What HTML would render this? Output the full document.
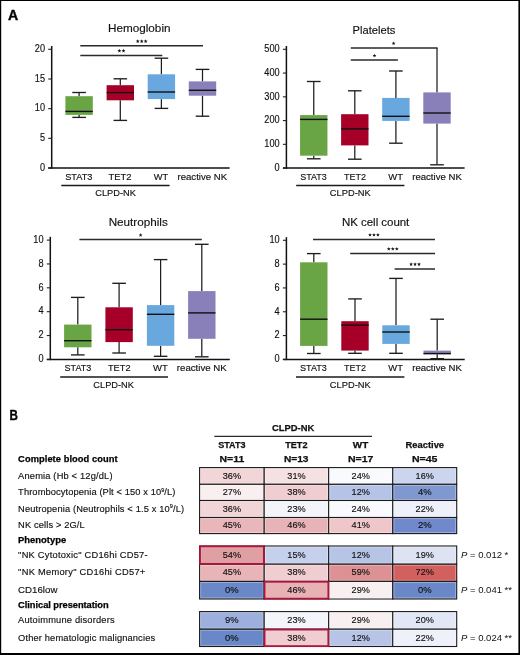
<!DOCTYPE html>
<html><head><meta charset="utf-8"><style>
html,body{margin:0;padding:0;background:#fff;}
#wrap{position:relative;width:520px;height:655px;overflow:hidden;background:#fff;}
svg{position:absolute;left:0;top:0;will-change:transform;font-family:"Liberation Sans", sans-serif;}
</style></head><body><div id="wrap">
<svg width="520" height="655" viewBox="0 0 520 655">
<line x1="51.7" y1="46" x2="51.7" y2="168.75" stroke="#111" stroke-width="1.5"/>
<line x1="48.2" y1="168.0" x2="229.6" y2="168.0" stroke="#111" stroke-width="1.5"/>
<line x1="48.2" y1="168.0" x2="51.7" y2="168.0" stroke="#222" stroke-width="1.1"/>
<text x="45.00" y="170.8" font-size="10" text-anchor="end" font-weight="normal" fill="#111" stroke="#111" stroke-width="0.15" textLength="5.10" lengthAdjust="spacingAndGlyphs">0</text>
<line x1="48.2" y1="138.32" x2="51.7" y2="138.32" stroke="#222" stroke-width="1.1"/>
<text x="45.00" y="141.12" font-size="10" text-anchor="end" font-weight="normal" fill="#111" stroke="#111" stroke-width="0.15" textLength="5.10" lengthAdjust="spacingAndGlyphs">5</text>
<line x1="48.2" y1="108.65" x2="51.7" y2="108.65" stroke="#222" stroke-width="1.1"/>
<text x="45.00" y="111.45" font-size="10" text-anchor="end" font-weight="normal" fill="#111" stroke="#111" stroke-width="0.15" textLength="10.20" lengthAdjust="spacingAndGlyphs">10</text>
<line x1="48.2" y1="78.98" x2="51.7" y2="78.98" stroke="#222" stroke-width="1.1"/>
<text x="45.00" y="81.78" font-size="10" text-anchor="end" font-weight="normal" fill="#111" stroke="#111" stroke-width="0.15" textLength="10.20" lengthAdjust="spacingAndGlyphs">15</text>
<line x1="48.2" y1="49.3" x2="51.7" y2="49.3" stroke="#222" stroke-width="1.1"/>
<text x="45.00" y="52.099999999999994" font-size="10" text-anchor="end" font-weight="normal" fill="#111" stroke="#111" stroke-width="0.15" textLength="10.20" lengthAdjust="spacingAndGlyphs">20</text>
<line x1="79.1" y1="92.5" x2="79.1" y2="96.2" stroke="#1e1e1e" stroke-width="1.25"/>
<line x1="79.1" y1="114.9" x2="79.1" y2="117.4" stroke="#1e1e1e" stroke-width="1.25"/>
<line x1="72.3" y1="92.5" x2="85.89999999999999" y2="92.5" stroke="#1e1e1e" stroke-width="1.35"/>
<line x1="72.3" y1="117.4" x2="85.89999999999999" y2="117.4" stroke="#1e1e1e" stroke-width="1.35"/>
<rect x="65.39999999999999" y="96.2" width="27.4" height="18.700000000000003" fill="#6aa545"/>
<line x1="65.39999999999999" y1="111.4" x2="92.8" y2="111.4" stroke="#111" stroke-width="1.4"/>
<line x1="120.3" y1="78.8" x2="120.3" y2="85.2" stroke="#1e1e1e" stroke-width="1.25"/>
<line x1="120.3" y1="100.3" x2="120.3" y2="120.4" stroke="#1e1e1e" stroke-width="1.25"/>
<line x1="113.5" y1="78.8" x2="127.1" y2="78.8" stroke="#1e1e1e" stroke-width="1.35"/>
<line x1="113.5" y1="120.4" x2="127.1" y2="120.4" stroke="#1e1e1e" stroke-width="1.35"/>
<rect x="106.6" y="85.2" width="27.4" height="15.099999999999994" fill="#a60029"/>
<line x1="106.6" y1="92.6" x2="134.0" y2="92.6" stroke="#111" stroke-width="1.4"/>
<line x1="161.4" y1="58.2" x2="161.4" y2="74.3" stroke="#1e1e1e" stroke-width="1.25"/>
<line x1="161.4" y1="99.1" x2="161.4" y2="108.4" stroke="#1e1e1e" stroke-width="1.25"/>
<line x1="154.6" y1="58.2" x2="168.20000000000002" y2="58.2" stroke="#1e1e1e" stroke-width="1.35"/>
<line x1="154.6" y1="108.4" x2="168.20000000000002" y2="108.4" stroke="#1e1e1e" stroke-width="1.35"/>
<rect x="147.70000000000002" y="74.3" width="27.4" height="24.799999999999997" fill="#68a8de"/>
<line x1="147.70000000000002" y1="92.0" x2="175.1" y2="92.0" stroke="#111" stroke-width="1.4"/>
<line x1="202.5" y1="69.4" x2="202.5" y2="81.4" stroke="#1e1e1e" stroke-width="1.25"/>
<line x1="202.5" y1="95.7" x2="202.5" y2="116.2" stroke="#1e1e1e" stroke-width="1.25"/>
<line x1="195.7" y1="69.4" x2="209.3" y2="69.4" stroke="#1e1e1e" stroke-width="1.35"/>
<line x1="195.7" y1="116.2" x2="209.3" y2="116.2" stroke="#1e1e1e" stroke-width="1.35"/>
<rect x="188.8" y="81.4" width="27.4" height="14.299999999999997" fill="#897fb9"/>
<line x1="188.8" y1="90.3" x2="216.2" y2="90.3" stroke="#111" stroke-width="1.4"/>
<text x="108.00" y="32.4" font-size="11.5" text-anchor="start" font-weight="normal" fill="#111" stroke="#111" stroke-width="0.15" textLength="62.50" lengthAdjust="spacingAndGlyphs">Hemoglobin</text>
<text x="65.20" y="179.6" font-size="9.5" text-anchor="start" font-weight="normal" fill="#111" stroke="#111" stroke-width="0.15" textLength="27.30" lengthAdjust="spacingAndGlyphs">STAT3</text>
<text x="108.50" y="179.6" font-size="9.5" text-anchor="start" font-weight="normal" fill="#111" stroke="#111" stroke-width="0.15" textLength="23.00" lengthAdjust="spacingAndGlyphs">TET2</text>
<text x="153.80" y="179.6" font-size="9.5" text-anchor="start" font-weight="normal" fill="#111" stroke="#111" stroke-width="0.15" textLength="14.40" lengthAdjust="spacingAndGlyphs">WT</text>
<text x="177.50" y="179.6" font-size="9.5" text-anchor="start" font-weight="normal" fill="#111" stroke="#111" stroke-width="0.15" textLength="49.60" lengthAdjust="spacingAndGlyphs">reactive NK</text>
<line x1="61.3" y1="185.5" x2="169.6" y2="185.5" stroke="#1a1a1a" stroke-width="1.5"/>
<text x="95.30" y="196.3" font-size="9.5" text-anchor="start" font-weight="normal" fill="#111" stroke="#111" stroke-width="0.15" textLength="40.60" lengthAdjust="spacingAndGlyphs">CLPD-NK</text>
<line x1="80.3" y1="45.7" x2="203" y2="45.7" stroke="#2a2a2a" stroke-width="1.45"/>
<polygon points="137.75,39.30 138.25,40.61 139.65,40.68 138.56,41.56 138.93,42.92 137.75,42.15 136.57,42.92 136.94,41.56 135.85,40.68 137.25,40.61" fill="#111"/>
<polygon points="141.70,39.30 142.20,40.61 143.60,40.68 142.51,41.56 142.88,42.92 141.70,42.15 140.52,42.92 140.89,41.56 139.80,40.68 141.20,40.61" fill="#111"/>
<polygon points="145.65,39.30 146.15,40.61 147.55,40.68 146.46,41.56 146.83,42.92 145.65,42.15 144.47,42.92 144.84,41.56 143.75,40.68 145.15,40.61" fill="#111"/>
<line x1="80.3" y1="55.5" x2="162.3" y2="55.5" stroke="#2a2a2a" stroke-width="1.45"/>
<polygon points="119.40,48.80 119.90,50.11 121.30,50.18 120.21,51.06 120.58,52.42 119.40,51.65 118.22,52.42 118.59,51.06 117.50,50.18 118.90,50.11" fill="#111"/>
<polygon points="123.50,48.80 124.00,50.11 125.40,50.18 124.31,51.06 124.68,52.42 123.50,51.65 122.32,52.42 122.69,51.06 121.60,50.18 123.00,50.11" fill="#111"/>
<line x1="286.4" y1="46" x2="286.4" y2="168.85" stroke="#111" stroke-width="1.5"/>
<line x1="282.9" y1="168.1" x2="464.6" y2="168.1" stroke="#111" stroke-width="1.5"/>
<line x1="282.9" y1="168.1" x2="286.4" y2="168.1" stroke="#222" stroke-width="1.1"/>
<text x="279.60" y="170.9" font-size="10" text-anchor="end" font-weight="normal" fill="#111" stroke="#111" stroke-width="0.15" textLength="5.10" lengthAdjust="spacingAndGlyphs">0</text>
<line x1="282.9" y1="144.34" x2="286.4" y2="144.34" stroke="#222" stroke-width="1.1"/>
<text x="279.60" y="147.14000000000001" font-size="10" text-anchor="end" font-weight="normal" fill="#111" stroke="#111" stroke-width="0.15" textLength="15.30" lengthAdjust="spacingAndGlyphs">100</text>
<line x1="282.9" y1="120.58" x2="286.4" y2="120.58" stroke="#222" stroke-width="1.1"/>
<text x="279.60" y="123.38" font-size="10" text-anchor="end" font-weight="normal" fill="#111" stroke="#111" stroke-width="0.15" textLength="15.30" lengthAdjust="spacingAndGlyphs">200</text>
<line x1="282.9" y1="96.82" x2="286.4" y2="96.82" stroke="#222" stroke-width="1.1"/>
<text x="279.60" y="99.61999999999999" font-size="10" text-anchor="end" font-weight="normal" fill="#111" stroke="#111" stroke-width="0.15" textLength="15.30" lengthAdjust="spacingAndGlyphs">300</text>
<line x1="282.9" y1="73.06" x2="286.4" y2="73.06" stroke="#222" stroke-width="1.1"/>
<text x="279.60" y="75.86" font-size="10" text-anchor="end" font-weight="normal" fill="#111" stroke="#111" stroke-width="0.15" textLength="15.30" lengthAdjust="spacingAndGlyphs">400</text>
<line x1="282.9" y1="49.3" x2="286.4" y2="49.3" stroke="#222" stroke-width="1.1"/>
<text x="279.60" y="52.099999999999994" font-size="10" text-anchor="end" font-weight="normal" fill="#111" stroke="#111" stroke-width="0.15" textLength="15.30" lengthAdjust="spacingAndGlyphs">500</text>
<line x1="313.75" y1="81.5" x2="313.75" y2="115.1" stroke="#1e1e1e" stroke-width="1.25"/>
<line x1="313.75" y1="155.7" x2="313.75" y2="158.8" stroke="#1e1e1e" stroke-width="1.25"/>
<line x1="306.95" y1="81.5" x2="320.55" y2="81.5" stroke="#1e1e1e" stroke-width="1.35"/>
<line x1="306.95" y1="158.8" x2="320.55" y2="158.8" stroke="#1e1e1e" stroke-width="1.35"/>
<rect x="300.05" y="115.1" width="27.4" height="40.599999999999994" fill="#6aa545"/>
<line x1="300.05" y1="119.4" x2="327.45" y2="119.4" stroke="#111" stroke-width="1.4"/>
<line x1="354.8" y1="90.8" x2="354.8" y2="114.2" stroke="#1e1e1e" stroke-width="1.25"/>
<line x1="354.8" y1="145.4" x2="354.8" y2="159.2" stroke="#1e1e1e" stroke-width="1.25"/>
<line x1="348.0" y1="90.8" x2="361.6" y2="90.8" stroke="#1e1e1e" stroke-width="1.35"/>
<line x1="348.0" y1="159.2" x2="361.6" y2="159.2" stroke="#1e1e1e" stroke-width="1.35"/>
<rect x="341.1" y="114.2" width="27.4" height="31.200000000000003" fill="#a60029"/>
<line x1="341.1" y1="128.9" x2="368.5" y2="128.9" stroke="#111" stroke-width="1.4"/>
<line x1="395.9" y1="71.0" x2="395.9" y2="97.9" stroke="#1e1e1e" stroke-width="1.25"/>
<line x1="395.9" y1="120.9" x2="395.9" y2="143.2" stroke="#1e1e1e" stroke-width="1.25"/>
<line x1="389.09999999999997" y1="71.0" x2="402.7" y2="71.0" stroke="#1e1e1e" stroke-width="1.35"/>
<line x1="389.09999999999997" y1="143.2" x2="402.7" y2="143.2" stroke="#1e1e1e" stroke-width="1.35"/>
<rect x="382.2" y="97.9" width="27.4" height="23.0" fill="#68a8de"/>
<line x1="382.2" y1="116.3" x2="409.59999999999997" y2="116.3" stroke="#111" stroke-width="1.4"/>
<line x1="437.0" y1="47.9" x2="437.0" y2="92.4" stroke="#1e1e1e" stroke-width="1.25"/>
<line x1="437.0" y1="123.6" x2="437.0" y2="164.8" stroke="#1e1e1e" stroke-width="1.25"/>
<line x1="430.2" y1="164.8" x2="443.8" y2="164.8" stroke="#1e1e1e" stroke-width="1.35"/>
<rect x="423.3" y="92.4" width="27.4" height="31.19999999999999" fill="#897fb9"/>
<line x1="423.3" y1="113.0" x2="450.7" y2="113.0" stroke="#111" stroke-width="1.4"/>
<text x="352.60" y="34.2" font-size="11.5" text-anchor="start" font-weight="normal" fill="#111" stroke="#111" stroke-width="0.15" textLength="42.80" lengthAdjust="spacingAndGlyphs">Platelets</text>
<text x="300.20" y="179.6" font-size="9.5" text-anchor="start" font-weight="normal" fill="#111" stroke="#111" stroke-width="0.15" textLength="26.60" lengthAdjust="spacingAndGlyphs">STAT3</text>
<text x="344.10" y="179.6" font-size="9.5" text-anchor="start" font-weight="normal" fill="#111" stroke="#111" stroke-width="0.15" textLength="22.00" lengthAdjust="spacingAndGlyphs">TET2</text>
<text x="388.30" y="179.6" font-size="9.5" text-anchor="start" font-weight="normal" fill="#111" stroke="#111" stroke-width="0.15" textLength="14.70" lengthAdjust="spacingAndGlyphs">WT</text>
<text x="412.20" y="179.6" font-size="9.5" text-anchor="start" font-weight="normal" fill="#111" stroke="#111" stroke-width="0.15" textLength="49.60" lengthAdjust="spacingAndGlyphs">reactive NK</text>
<line x1="296.2" y1="185.6" x2="404.4" y2="185.6" stroke="#1a1a1a" stroke-width="1.5"/>
<text x="329.80" y="196.3" font-size="9.5" text-anchor="start" font-weight="normal" fill="#111" stroke="#111" stroke-width="0.15" textLength="40.90" lengthAdjust="spacingAndGlyphs">CLPD-NK</text>
<line x1="350.8" y1="47.9" x2="437.6" y2="47.9" stroke="#2a2a2a" stroke-width="1.45"/>
<polygon points="393.60,41.40 394.10,42.71 395.50,42.78 394.41,43.66 394.78,45.02 393.60,44.25 392.42,45.02 392.79,43.66 391.70,42.78 393.10,42.71" fill="#111"/>
<line x1="350.8" y1="60.0" x2="397.9" y2="60.0" stroke="#2a2a2a" stroke-width="1.45"/>
<polygon points="374.50,53.70 375.00,55.01 376.40,55.08 375.31,55.96 375.68,57.32 374.50,56.55 373.32,57.32 373.69,55.96 372.60,55.08 374.00,55.01" fill="#111"/>
<line x1="50.3" y1="236.8" x2="50.3" y2="360.15" stroke="#111" stroke-width="1.5"/>
<line x1="46.8" y1="359.4" x2="229.8" y2="359.4" stroke="#111" stroke-width="1.5"/>
<line x1="46.8" y1="359.4" x2="50.3" y2="359.4" stroke="#222" stroke-width="1.1"/>
<text x="43.50" y="362.2" font-size="10" text-anchor="end" font-weight="normal" fill="#111" stroke="#111" stroke-width="0.15" textLength="5.10" lengthAdjust="spacingAndGlyphs">0</text>
<line x1="46.8" y1="335.54" x2="50.3" y2="335.54" stroke="#222" stroke-width="1.1"/>
<text x="43.50" y="338.34000000000003" font-size="10" text-anchor="end" font-weight="normal" fill="#111" stroke="#111" stroke-width="0.15" textLength="5.10" lengthAdjust="spacingAndGlyphs">2</text>
<line x1="46.8" y1="311.68" x2="50.3" y2="311.68" stroke="#222" stroke-width="1.1"/>
<text x="43.50" y="314.48" font-size="10" text-anchor="end" font-weight="normal" fill="#111" stroke="#111" stroke-width="0.15" textLength="5.10" lengthAdjust="spacingAndGlyphs">4</text>
<line x1="46.8" y1="287.82" x2="50.3" y2="287.82" stroke="#222" stroke-width="1.1"/>
<text x="43.50" y="290.62" font-size="10" text-anchor="end" font-weight="normal" fill="#111" stroke="#111" stroke-width="0.15" textLength="5.10" lengthAdjust="spacingAndGlyphs">6</text>
<line x1="46.8" y1="263.96" x2="50.3" y2="263.96" stroke="#222" stroke-width="1.1"/>
<text x="43.50" y="266.76" font-size="10" text-anchor="end" font-weight="normal" fill="#111" stroke="#111" stroke-width="0.15" textLength="5.10" lengthAdjust="spacingAndGlyphs">8</text>
<line x1="46.8" y1="240.1" x2="50.3" y2="240.1" stroke="#222" stroke-width="1.1"/>
<text x="43.50" y="242.9" font-size="10" text-anchor="end" font-weight="normal" fill="#111" stroke="#111" stroke-width="0.15" textLength="10.20" lengthAdjust="spacingAndGlyphs">10</text>
<line x1="77.8" y1="297.4" x2="77.8" y2="324.6" stroke="#1e1e1e" stroke-width="1.25"/>
<line x1="77.8" y1="347.3" x2="77.8" y2="354.9" stroke="#1e1e1e" stroke-width="1.25"/>
<line x1="71.0" y1="297.4" x2="84.6" y2="297.4" stroke="#1e1e1e" stroke-width="1.35"/>
<line x1="71.0" y1="354.9" x2="84.6" y2="354.9" stroke="#1e1e1e" stroke-width="1.35"/>
<rect x="64.1" y="324.6" width="27.4" height="22.69999999999999" fill="#6aa545"/>
<line x1="64.1" y1="340.7" x2="91.5" y2="340.7" stroke="#111" stroke-width="1.4"/>
<line x1="119.1" y1="283.3" x2="119.1" y2="307.3" stroke="#1e1e1e" stroke-width="1.25"/>
<line x1="119.1" y1="342.1" x2="119.1" y2="353.0" stroke="#1e1e1e" stroke-width="1.25"/>
<line x1="112.3" y1="283.3" x2="125.89999999999999" y2="283.3" stroke="#1e1e1e" stroke-width="1.35"/>
<line x1="112.3" y1="353.0" x2="125.89999999999999" y2="353.0" stroke="#1e1e1e" stroke-width="1.35"/>
<rect x="105.39999999999999" y="307.3" width="27.4" height="34.80000000000001" fill="#a60029"/>
<line x1="105.39999999999999" y1="329.7" x2="132.79999999999998" y2="329.7" stroke="#111" stroke-width="1.4"/>
<line x1="160.6" y1="259.6" x2="160.6" y2="305.1" stroke="#1e1e1e" stroke-width="1.25"/>
<line x1="160.6" y1="345.8" x2="160.6" y2="356.3" stroke="#1e1e1e" stroke-width="1.25"/>
<line x1="153.79999999999998" y1="259.6" x2="167.4" y2="259.6" stroke="#1e1e1e" stroke-width="1.35"/>
<line x1="153.79999999999998" y1="356.3" x2="167.4" y2="356.3" stroke="#1e1e1e" stroke-width="1.35"/>
<rect x="146.9" y="305.1" width="27.4" height="40.69999999999999" fill="#68a8de"/>
<line x1="146.9" y1="314.3" x2="174.29999999999998" y2="314.3" stroke="#111" stroke-width="1.4"/>
<line x1="201.8" y1="244.3" x2="201.8" y2="291.1" stroke="#1e1e1e" stroke-width="1.25"/>
<line x1="201.8" y1="338.8" x2="201.8" y2="356.8" stroke="#1e1e1e" stroke-width="1.25"/>
<line x1="195.0" y1="244.3" x2="208.60000000000002" y2="244.3" stroke="#1e1e1e" stroke-width="1.35"/>
<line x1="195.0" y1="356.8" x2="208.60000000000002" y2="356.8" stroke="#1e1e1e" stroke-width="1.35"/>
<rect x="188.10000000000002" y="291.1" width="27.4" height="47.69999999999999" fill="#897fb9"/>
<line x1="188.10000000000002" y1="312.9" x2="215.5" y2="312.9" stroke="#111" stroke-width="1.4"/>
<text x="108.70" y="225.8" font-size="11.5" text-anchor="start" font-weight="normal" fill="#111" stroke="#111" stroke-width="0.15" textLength="59.10" lengthAdjust="spacingAndGlyphs">Neutrophils</text>
<text x="64.50" y="370.8" font-size="9.5" text-anchor="start" font-weight="normal" fill="#111" stroke="#111" stroke-width="0.15" textLength="26.80" lengthAdjust="spacingAndGlyphs">STAT3</text>
<text x="108.00" y="370.8" font-size="9.5" text-anchor="start" font-weight="normal" fill="#111" stroke="#111" stroke-width="0.15" textLength="22.50" lengthAdjust="spacingAndGlyphs">TET2</text>
<text x="153.00" y="370.8" font-size="9.5" text-anchor="start" font-weight="normal" fill="#111" stroke="#111" stroke-width="0.15" textLength="14.80" lengthAdjust="spacingAndGlyphs">WT</text>
<text x="176.80" y="370.8" font-size="9.5" text-anchor="start" font-weight="normal" fill="#111" stroke="#111" stroke-width="0.15" textLength="49.90" lengthAdjust="spacingAndGlyphs">reactive NK</text>
<line x1="60.2" y1="377.0" x2="168.0" y2="377.0" stroke="#1a1a1a" stroke-width="1.5"/>
<text x="93.30" y="387.7" font-size="9.5" text-anchor="start" font-weight="normal" fill="#111" stroke="#111" stroke-width="0.15" textLength="40.70" lengthAdjust="spacingAndGlyphs">CLPD-NK</text>
<line x1="79.4" y1="239.4" x2="201.8" y2="239.4" stroke="#2a2a2a" stroke-width="1.45"/>
<polygon points="140.60,233.10 141.10,234.41 142.50,234.48 141.41,235.36 141.78,236.72 140.60,235.95 139.42,236.72 139.79,235.36 138.70,234.48 140.10,234.41" fill="#111"/>
<line x1="286.4" y1="237.2" x2="286.4" y2="360.15" stroke="#111" stroke-width="1.5"/>
<line x1="282.9" y1="359.4" x2="464.7" y2="359.4" stroke="#111" stroke-width="1.5"/>
<line x1="282.9" y1="359.4" x2="286.4" y2="359.4" stroke="#222" stroke-width="1.1"/>
<text x="279.60" y="362.2" font-size="10" text-anchor="end" font-weight="normal" fill="#111" stroke="#111" stroke-width="0.15" textLength="5.10" lengthAdjust="spacingAndGlyphs">0</text>
<line x1="282.9" y1="335.58" x2="286.4" y2="335.58" stroke="#222" stroke-width="1.1"/>
<text x="279.60" y="338.38" font-size="10" text-anchor="end" font-weight="normal" fill="#111" stroke="#111" stroke-width="0.15" textLength="5.10" lengthAdjust="spacingAndGlyphs">2</text>
<line x1="282.9" y1="311.76" x2="286.4" y2="311.76" stroke="#222" stroke-width="1.1"/>
<text x="279.60" y="314.56" font-size="10" text-anchor="end" font-weight="normal" fill="#111" stroke="#111" stroke-width="0.15" textLength="5.10" lengthAdjust="spacingAndGlyphs">4</text>
<line x1="282.9" y1="287.94" x2="286.4" y2="287.94" stroke="#222" stroke-width="1.1"/>
<text x="279.60" y="290.74" font-size="10" text-anchor="end" font-weight="normal" fill="#111" stroke="#111" stroke-width="0.15" textLength="5.10" lengthAdjust="spacingAndGlyphs">6</text>
<line x1="282.9" y1="264.12" x2="286.4" y2="264.12" stroke="#222" stroke-width="1.1"/>
<text x="279.60" y="266.92" font-size="10" text-anchor="end" font-weight="normal" fill="#111" stroke="#111" stroke-width="0.15" textLength="5.10" lengthAdjust="spacingAndGlyphs">8</text>
<line x1="282.9" y1="240.3" x2="286.4" y2="240.3" stroke="#222" stroke-width="1.1"/>
<text x="279.60" y="243.10000000000002" font-size="10" text-anchor="end" font-weight="normal" fill="#111" stroke="#111" stroke-width="0.15" textLength="10.20" lengthAdjust="spacingAndGlyphs">10</text>
<line x1="313.8" y1="253.6" x2="313.8" y2="262.3" stroke="#1e1e1e" stroke-width="1.25"/>
<line x1="313.8" y1="345.9" x2="313.8" y2="353.5" stroke="#1e1e1e" stroke-width="1.25"/>
<line x1="307.0" y1="253.6" x2="320.6" y2="253.6" stroke="#1e1e1e" stroke-width="1.35"/>
<line x1="307.0" y1="353.5" x2="320.6" y2="353.5" stroke="#1e1e1e" stroke-width="1.35"/>
<rect x="300.1" y="262.3" width="27.4" height="83.59999999999997" fill="#6aa545"/>
<line x1="300.1" y1="319.2" x2="327.5" y2="319.2" stroke="#111" stroke-width="1.4"/>
<line x1="355.0" y1="298.9" x2="355.0" y2="321.2" stroke="#1e1e1e" stroke-width="1.25"/>
<line x1="355.0" y1="350.6" x2="355.0" y2="353.3" stroke="#1e1e1e" stroke-width="1.25"/>
<line x1="348.2" y1="298.9" x2="361.8" y2="298.9" stroke="#1e1e1e" stroke-width="1.35"/>
<line x1="348.2" y1="353.3" x2="361.8" y2="353.3" stroke="#1e1e1e" stroke-width="1.35"/>
<rect x="341.3" y="321.2" width="27.4" height="29.400000000000034" fill="#a60029"/>
<line x1="341.3" y1="325.1" x2="368.7" y2="325.1" stroke="#111" stroke-width="1.4"/>
<line x1="396.0" y1="278.4" x2="396.0" y2="325.3" stroke="#1e1e1e" stroke-width="1.25"/>
<line x1="396.0" y1="343.9" x2="396.0" y2="353.3" stroke="#1e1e1e" stroke-width="1.25"/>
<line x1="389.2" y1="278.4" x2="402.8" y2="278.4" stroke="#1e1e1e" stroke-width="1.35"/>
<line x1="389.2" y1="353.3" x2="402.8" y2="353.3" stroke="#1e1e1e" stroke-width="1.35"/>
<rect x="382.3" y="325.3" width="27.4" height="18.599999999999966" fill="#68a8de"/>
<line x1="382.3" y1="332.0" x2="409.7" y2="332.0" stroke="#111" stroke-width="1.4"/>
<line x1="437.2" y1="319.2" x2="437.2" y2="350.6" stroke="#1e1e1e" stroke-width="1.25"/>
<line x1="437.2" y1="354.2" x2="437.2" y2="358.7" stroke="#1e1e1e" stroke-width="1.25"/>
<line x1="430.4" y1="319.2" x2="444.0" y2="319.2" stroke="#1e1e1e" stroke-width="1.35"/>
<line x1="430.4" y1="358.7" x2="444.0" y2="358.7" stroke="#1e1e1e" stroke-width="1.35"/>
<rect x="423.5" y="350.6" width="27.4" height="3.599999999999966" fill="#897fb9"/>
<line x1="423.5" y1="353.6" x2="450.9" y2="353.6" stroke="#111" stroke-width="1.4"/>
<text x="342.00" y="225.8" font-size="11.5" text-anchor="start" font-weight="normal" fill="#111" stroke="#111" stroke-width="0.15" textLength="67.30" lengthAdjust="spacing">NK cell count</text>
<text x="300.00" y="370.8" font-size="9.5" text-anchor="start" font-weight="normal" fill="#111" stroke="#111" stroke-width="0.15" textLength="26.80" lengthAdjust="spacingAndGlyphs">STAT3</text>
<text x="344.10" y="370.8" font-size="9.5" text-anchor="start" font-weight="normal" fill="#111" stroke="#111" stroke-width="0.15" textLength="22.00" lengthAdjust="spacingAndGlyphs">TET2</text>
<text x="388.30" y="370.8" font-size="9.5" text-anchor="start" font-weight="normal" fill="#111" stroke="#111" stroke-width="0.15" textLength="14.70" lengthAdjust="spacingAndGlyphs">WT</text>
<text x="412.20" y="370.8" font-size="9.5" text-anchor="start" font-weight="normal" fill="#111" stroke="#111" stroke-width="0.15" textLength="49.60" lengthAdjust="spacingAndGlyphs">reactive NK</text>
<line x1="296.0" y1="377.0" x2="404.4" y2="377.0" stroke="#1a1a1a" stroke-width="1.5"/>
<text x="329.80" y="387.7" font-size="9.5" text-anchor="start" font-weight="normal" fill="#111" stroke="#111" stroke-width="0.15" textLength="40.90" lengthAdjust="spacingAndGlyphs">CLPD-NK</text>
<line x1="313" y1="239.4" x2="435" y2="239.4" stroke="#2a2a2a" stroke-width="1.45"/>
<polygon points="370.00,233.00 370.50,234.31 371.90,234.38 370.81,235.26 371.18,236.62 370.00,235.85 368.82,236.62 369.19,235.26 368.10,234.38 369.50,234.31" fill="#111"/>
<polygon points="373.95,233.00 374.45,234.31 375.85,234.38 374.76,235.26 375.13,236.62 373.95,235.85 372.77,236.62 373.14,235.26 372.05,234.38 373.45,234.31" fill="#111"/>
<polygon points="377.90,233.00 378.40,234.31 379.80,234.38 378.71,235.26 379.08,236.62 377.90,235.85 376.72,236.62 377.09,235.26 376.00,234.38 377.40,234.31" fill="#111"/>
<line x1="350.2" y1="253.5" x2="435" y2="253.5" stroke="#2a2a2a" stroke-width="1.45"/>
<polygon points="388.80,246.90 389.30,248.21 390.70,248.28 389.61,249.16 389.98,250.52 388.80,249.75 387.62,250.52 387.99,249.16 386.90,248.28 388.30,248.21" fill="#111"/>
<polygon points="392.80,246.90 393.30,248.21 394.70,248.28 393.61,249.16 393.98,250.52 392.80,249.75 391.62,250.52 391.99,249.16 390.90,248.28 392.30,248.21" fill="#111"/>
<polygon points="396.80,246.90 397.30,248.21 398.70,248.28 397.61,249.16 397.98,250.52 396.80,249.75 395.62,250.52 395.99,249.16 394.90,248.28 396.30,248.21" fill="#111"/>
<line x1="394.6" y1="268.9" x2="435" y2="268.9" stroke="#2a2a2a" stroke-width="1.45"/>
<polygon points="411.10,262.30 411.60,263.61 413.00,263.68 411.91,264.56 412.28,265.92 411.10,265.15 409.92,265.92 410.29,264.56 409.20,263.68 410.60,263.61" fill="#111"/>
<polygon points="415.05,262.30 415.55,263.61 416.95,263.68 415.86,264.56 416.23,265.92 415.05,265.15 413.87,265.92 414.24,264.56 413.15,263.68 414.55,263.61" fill="#111"/>
<polygon points="419.00,262.30 419.50,263.61 420.90,263.68 419.81,264.56 420.18,265.92 419.00,265.15 417.82,265.92 418.19,264.56 417.10,263.68 418.50,263.61" fill="#111"/>
<text x="8.0" y="19.6" font-size="14" font-weight="bold" fill="#000" stroke="#000" stroke-width="0.35" textLength="10.2" lengthAdjust="spacingAndGlyphs">A</text>
<text x="9.4" y="419.6" font-size="14" font-weight="bold" fill="#000" stroke="#000" stroke-width="0.35" textLength="8.4" lengthAdjust="spacingAndGlyphs">B</text>
<text x="272.00" y="430.8" font-size="9" text-anchor="start" font-weight="bold" fill="#111" stroke="#111" stroke-width="0.25" textLength="42.25" lengthAdjust="spacingAndGlyphs">CLPD-NK</text>
<line x1="214.3" y1="436.4" x2="372.0" y2="436.4" stroke="#2a2a2a" stroke-width="1.3"/>
<text x="218.25" y="448.3" font-size="9" text-anchor="start" font-weight="bold" fill="#111" stroke="#111" stroke-width="0.25" textLength="27.25" lengthAdjust="spacingAndGlyphs">STAT3</text>
<text x="219.50" y="461.8" font-size="9" text-anchor="start" font-weight="bold" fill="#111" stroke="#111" stroke-width="0.25" textLength="24.75" lengthAdjust="spacingAndGlyphs">N=11</text>
<text x="285.25" y="448.3" font-size="9" text-anchor="start" font-weight="bold" fill="#111" stroke="#111" stroke-width="0.25" textLength="22.25" lengthAdjust="spacingAndGlyphs">TET2</text>
<text x="284.00" y="461.8" font-size="9" text-anchor="start" font-weight="bold" fill="#111" stroke="#111" stroke-width="0.25" textLength="24.50" lengthAdjust="spacingAndGlyphs">N=13</text>
<text x="352.80" y="448.3" font-size="9" text-anchor="start" font-weight="bold" fill="#111" stroke="#111" stroke-width="0.25" textLength="15.40" lengthAdjust="spacingAndGlyphs">WT</text>
<text x="347.90" y="461.8" font-size="9" text-anchor="start" font-weight="bold" fill="#111" stroke="#111" stroke-width="0.25" textLength="25.50" lengthAdjust="spacingAndGlyphs">N=17</text>
<text x="405.50" y="448.3" font-size="9" text-anchor="start" font-weight="bold" fill="#111" stroke="#111" stroke-width="0.25" textLength="38.60" lengthAdjust="spacingAndGlyphs">Reactive</text>
<text x="411.90" y="461.8" font-size="9" text-anchor="start" font-weight="bold" fill="#111" stroke="#111" stroke-width="0.25" textLength="25.50" lengthAdjust="spacingAndGlyphs">N=45</text>
<text x="18.10" y="461.5" font-size="9.3" text-anchor="start" font-weight="bold" fill="#000" stroke="#000" stroke-width="0.25" textLength="99.50" lengthAdjust="spacing">Complete blood count</text>
<text x="18.10" y="478.5" font-size="9.3" text-anchor="start" font-weight="normal" fill="#111" stroke="#111" stroke-width="0.15" textLength="94.40" lengthAdjust="spacing">Anemia (Hb &lt; 12g/dL)</text>
<rect x="199.6" y="467.6" width="64.6" height="16.69999999999999" fill="#f2d5d7" stroke="#1a1a1a" stroke-width="1.1"/>
<rect x="200.7" y="468.70000000000005" width="62.39999999999999" height="14.49999999999999" fill="none" stroke="rgba(255,255,255,0.35)" stroke-width="0.9"/>
<text x="231.90" y="478.5" font-size="9.8" text-anchor="middle" font-weight="normal" fill="#111" stroke="#111" stroke-width="0.15" textLength="18.30" lengthAdjust="spacingAndGlyphs">36%</text>
<rect x="264.2" y="467.6" width="64.5" height="16.69999999999999" fill="#f6e1e2" stroke="#1a1a1a" stroke-width="1.1"/>
<rect x="265.3" y="468.70000000000005" width="62.3" height="14.49999999999999" fill="none" stroke="rgba(255,255,255,0.35)" stroke-width="0.9"/>
<text x="296.45" y="478.5" font-size="9.8" text-anchor="middle" font-weight="normal" fill="#111" stroke="#111" stroke-width="0.15" textLength="18.30" lengthAdjust="spacingAndGlyphs">31%</text>
<rect x="328.7" y="467.6" width="64.10000000000002" height="16.69999999999999" fill="#f9fafd" stroke="#1a1a1a" stroke-width="1.1"/>
<rect x="329.8" y="468.70000000000005" width="61.90000000000002" height="14.49999999999999" fill="none" stroke="rgba(255,255,255,0.35)" stroke-width="0.9"/>
<text x="360.75" y="478.5" font-size="9.8" text-anchor="middle" font-weight="normal" fill="#111" stroke="#111" stroke-width="0.15" textLength="18.30" lengthAdjust="spacingAndGlyphs">24%</text>
<rect x="392.8" y="467.6" width="63.89999999999998" height="16.69999999999999" fill="#cbd5ee" stroke="#1a1a1a" stroke-width="1.1"/>
<rect x="393.90000000000003" y="468.70000000000005" width="61.699999999999974" height="14.49999999999999" fill="none" stroke="rgba(255,255,255,0.35)" stroke-width="0.9"/>
<text x="424.75" y="478.5" font-size="9.8" text-anchor="middle" font-weight="normal" fill="#111" stroke="#111" stroke-width="0.15" textLength="18.30" lengthAdjust="spacingAndGlyphs">16%</text>
<text x="18.10" y="494.8" font-size="9.3" text-anchor="start" font-weight="normal" fill="#111" stroke="#111" stroke-width="0.15" textLength="157.30" lengthAdjust="spacing">Thrombocytopenia (Plt &lt; 150 x 10<tspan font-size="5.5" dy="-3.2">9</tspan><tspan dy="3.2">/L)</tspan></text>
<rect x="199.6" y="484.3" width="64.6" height="16.19999999999999" fill="#f9eef0" stroke="#1a1a1a" stroke-width="1.1"/>
<rect x="200.7" y="485.40000000000003" width="62.39999999999999" height="13.99999999999999" fill="none" stroke="rgba(255,255,255,0.35)" stroke-width="0.9"/>
<text x="231.90" y="494.8" font-size="9.8" text-anchor="middle" font-weight="normal" fill="#111" stroke="#111" stroke-width="0.15" textLength="18.30" lengthAdjust="spacingAndGlyphs">27%</text>
<rect x="264.2" y="484.3" width="64.5" height="16.19999999999999" fill="#efcdd0" stroke="#1a1a1a" stroke-width="1.1"/>
<rect x="265.3" y="485.40000000000003" width="62.3" height="13.99999999999999" fill="none" stroke="rgba(255,255,255,0.35)" stroke-width="0.9"/>
<text x="296.45" y="494.8" font-size="9.8" text-anchor="middle" font-weight="normal" fill="#111" stroke="#111" stroke-width="0.15" textLength="18.30" lengthAdjust="spacingAndGlyphs">38%</text>
<rect x="328.7" y="484.3" width="64.10000000000002" height="16.19999999999999" fill="#b5c4e6" stroke="#1a1a1a" stroke-width="1.1"/>
<rect x="329.8" y="485.40000000000003" width="61.90000000000002" height="13.99999999999999" fill="none" stroke="rgba(255,255,255,0.35)" stroke-width="0.9"/>
<text x="360.75" y="494.8" font-size="9.8" text-anchor="middle" font-weight="normal" fill="#111" stroke="#111" stroke-width="0.15" textLength="18.30" lengthAdjust="spacingAndGlyphs">12%</text>
<rect x="392.8" y="484.3" width="63.89999999999998" height="16.19999999999999" fill="#8098d0" stroke="#1a1a1a" stroke-width="1.1"/>
<rect x="393.90000000000003" y="485.40000000000003" width="61.699999999999974" height="13.99999999999999" fill="none" stroke="rgba(255,255,255,0.35)" stroke-width="0.9"/>
<text x="424.75" y="494.8" font-size="9.8" text-anchor="middle" font-weight="normal" fill="#111" stroke="#111" stroke-width="0.15" textLength="13.60" lengthAdjust="spacingAndGlyphs">4%</text>
<text x="18.10" y="511.6" font-size="9.3" text-anchor="start" font-weight="normal" fill="#111" stroke="#111" stroke-width="0.15" textLength="166.00" lengthAdjust="spacing">Neutropenia (Neutrophils &lt; 1.5 x 10<tspan font-size="5.5" dy="-3.2">9</tspan><tspan dy="3.2">/L)</tspan></text>
<rect x="199.6" y="500.5" width="64.6" height="17.0" fill="#f2d5d7" stroke="#1a1a1a" stroke-width="1.1"/>
<rect x="200.7" y="501.6" width="62.39999999999999" height="14.8" fill="none" stroke="rgba(255,255,255,0.35)" stroke-width="0.9"/>
<text x="231.90" y="511.6" font-size="9.8" text-anchor="middle" font-weight="normal" fill="#111" stroke="#111" stroke-width="0.15" textLength="18.30" lengthAdjust="spacingAndGlyphs">36%</text>
<rect x="264.2" y="500.5" width="64.5" height="17.0" fill="#f3f5fb" stroke="#1a1a1a" stroke-width="1.1"/>
<rect x="265.3" y="501.6" width="62.3" height="14.8" fill="none" stroke="rgba(255,255,255,0.35)" stroke-width="0.9"/>
<text x="296.45" y="511.6" font-size="9.8" text-anchor="middle" font-weight="normal" fill="#111" stroke="#111" stroke-width="0.15" textLength="18.30" lengthAdjust="spacingAndGlyphs">23%</text>
<rect x="328.7" y="500.5" width="64.10000000000002" height="17.0" fill="#f9fafd" stroke="#1a1a1a" stroke-width="1.1"/>
<rect x="329.8" y="501.6" width="61.90000000000002" height="14.8" fill="none" stroke="rgba(255,255,255,0.35)" stroke-width="0.9"/>
<text x="360.75" y="511.6" font-size="9.8" text-anchor="middle" font-weight="normal" fill="#111" stroke="#111" stroke-width="0.15" textLength="18.30" lengthAdjust="spacingAndGlyphs">24%</text>
<rect x="392.8" y="500.5" width="63.89999999999998" height="17.0" fill="#eef1fa" stroke="#1a1a1a" stroke-width="1.1"/>
<rect x="393.90000000000003" y="501.6" width="61.699999999999974" height="14.8" fill="none" stroke="rgba(255,255,255,0.35)" stroke-width="0.9"/>
<text x="424.75" y="511.6" font-size="9.8" text-anchor="middle" font-weight="normal" fill="#111" stroke="#111" stroke-width="0.15" textLength="18.30" lengthAdjust="spacingAndGlyphs">22%</text>
<text x="18.10" y="528.1" font-size="9.3" text-anchor="start" font-weight="normal" fill="#111" stroke="#111" stroke-width="0.15" textLength="66.60" lengthAdjust="spacing">NK cells &gt; 2G/L</text>
<rect x="199.6" y="517.5" width="64.6" height="16.100000000000023" fill="#e9b6b9" stroke="#1a1a1a" stroke-width="1.1"/>
<rect x="200.7" y="518.6" width="62.39999999999999" height="13.900000000000023" fill="none" stroke="rgba(255,255,255,0.35)" stroke-width="0.9"/>
<text x="231.90" y="528.1" font-size="9.8" text-anchor="middle" font-weight="normal" fill="#111" stroke="#111" stroke-width="0.15" textLength="18.30" lengthAdjust="spacingAndGlyphs">45%</text>
<rect x="264.2" y="517.5" width="64.5" height="16.100000000000023" fill="#e8b3b6" stroke="#1a1a1a" stroke-width="1.1"/>
<rect x="265.3" y="518.6" width="62.3" height="13.900000000000023" fill="none" stroke="rgba(255,255,255,0.35)" stroke-width="0.9"/>
<text x="296.45" y="528.1" font-size="9.8" text-anchor="middle" font-weight="normal" fill="#111" stroke="#111" stroke-width="0.15" textLength="18.30" lengthAdjust="spacingAndGlyphs">46%</text>
<rect x="328.7" y="517.5" width="64.10000000000002" height="16.100000000000023" fill="#efc6c9" stroke="#1a1a1a" stroke-width="1.1"/>
<rect x="329.8" y="518.6" width="61.90000000000002" height="13.900000000000023" fill="none" stroke="rgba(255,255,255,0.35)" stroke-width="0.9"/>
<text x="360.75" y="528.1" font-size="9.8" text-anchor="middle" font-weight="normal" fill="#111" stroke="#111" stroke-width="0.15" textLength="18.30" lengthAdjust="spacingAndGlyphs">41%</text>
<rect x="392.8" y="517.5" width="63.89999999999998" height="16.100000000000023" fill="#7089cc" stroke="#1a1a1a" stroke-width="1.1"/>
<rect x="393.90000000000003" y="518.6" width="61.699999999999974" height="13.900000000000023" fill="none" stroke="rgba(255,255,255,0.35)" stroke-width="0.9"/>
<text x="424.75" y="528.1" font-size="9.8" text-anchor="middle" font-weight="normal" fill="#111" stroke="#111" stroke-width="0.15" textLength="13.60" lengthAdjust="spacingAndGlyphs">2%</text>
<text x="18.10" y="542.5" font-size="9.3" text-anchor="start" font-weight="bold" fill="#000" stroke="#000" stroke-width="0.25" textLength="48.10" lengthAdjust="spacingAndGlyphs">Phenotype</text>
<text x="18.10" y="558.0" font-size="9.3" text-anchor="start" font-weight="normal" fill="#111" stroke="#111" stroke-width="0.15" textLength="129.50" lengthAdjust="spacing">"NK Cytotoxic" CD16hi CD57-</text>
<rect x="199.6" y="546.0" width="64.6" height="18.200000000000045" fill="#e0a0a3" stroke="#1a1a1a" stroke-width="1.1"/>
<rect x="200.7" y="547.1" width="62.39999999999999" height="16.000000000000046" fill="none" stroke="rgba(255,255,255,0.35)" stroke-width="0.9"/>
<text x="231.90" y="558.0" font-size="9.8" text-anchor="middle" font-weight="normal" fill="#111" stroke="#111" stroke-width="0.15" textLength="18.30" lengthAdjust="spacingAndGlyphs">54%</text>
<rect x="264.2" y="546.0" width="64.5" height="18.200000000000045" fill="#c5d1ec" stroke="#1a1a1a" stroke-width="1.1"/>
<rect x="265.3" y="547.1" width="62.3" height="16.000000000000046" fill="none" stroke="rgba(255,255,255,0.35)" stroke-width="0.9"/>
<text x="296.45" y="558.0" font-size="9.8" text-anchor="middle" font-weight="normal" fill="#111" stroke="#111" stroke-width="0.15" textLength="18.30" lengthAdjust="spacingAndGlyphs">15%</text>
<rect x="328.7" y="546.0" width="64.10000000000002" height="18.200000000000045" fill="#b6c4e6" stroke="#1a1a1a" stroke-width="1.1"/>
<rect x="329.8" y="547.1" width="61.90000000000002" height="16.000000000000046" fill="none" stroke="rgba(255,255,255,0.35)" stroke-width="0.9"/>
<text x="360.75" y="558.0" font-size="9.8" text-anchor="middle" font-weight="normal" fill="#111" stroke="#111" stroke-width="0.15" textLength="18.30" lengthAdjust="spacingAndGlyphs">12%</text>
<rect x="392.8" y="546.0" width="63.89999999999998" height="18.200000000000045" fill="#dde3f3" stroke="#1a1a1a" stroke-width="1.1"/>
<rect x="393.90000000000003" y="547.1" width="61.699999999999974" height="16.000000000000046" fill="none" stroke="rgba(255,255,255,0.35)" stroke-width="0.9"/>
<text x="424.75" y="558.0" font-size="9.8" text-anchor="middle" font-weight="normal" fill="#111" stroke="#111" stroke-width="0.15" textLength="18.30" lengthAdjust="spacingAndGlyphs">19%</text>
<text x="461" y="558.0" font-size="9.5" fill="#111"><tspan font-style="italic">P</tspan> = 0.012 *</text>
<text x="18.10" y="575.3" font-size="9.3" text-anchor="start" font-weight="normal" fill="#111" stroke="#111" stroke-width="0.15" textLength="127.20" lengthAdjust="spacing">"NK Memory" CD16hi CD57+</text>
<rect x="199.6" y="564.2" width="64.6" height="17.199999999999932" fill="#e8b4b7" stroke="#1a1a1a" stroke-width="1.1"/>
<rect x="200.7" y="565.3000000000001" width="62.39999999999999" height="14.999999999999932" fill="none" stroke="rgba(255,255,255,0.35)" stroke-width="0.9"/>
<text x="231.90" y="575.3" font-size="9.8" text-anchor="middle" font-weight="normal" fill="#111" stroke="#111" stroke-width="0.15" textLength="18.30" lengthAdjust="spacingAndGlyphs">45%</text>
<rect x="264.2" y="564.2" width="64.5" height="17.199999999999932" fill="#efcdd0" stroke="#1a1a1a" stroke-width="1.1"/>
<rect x="265.3" y="565.3000000000001" width="62.3" height="14.999999999999932" fill="none" stroke="rgba(255,255,255,0.35)" stroke-width="0.9"/>
<text x="296.45" y="575.3" font-size="9.8" text-anchor="middle" font-weight="normal" fill="#111" stroke="#111" stroke-width="0.15" textLength="18.30" lengthAdjust="spacingAndGlyphs">38%</text>
<rect x="328.7" y="564.2" width="64.10000000000002" height="17.199999999999932" fill="#de9195" stroke="#1a1a1a" stroke-width="1.1"/>
<rect x="329.8" y="565.3000000000001" width="61.90000000000002" height="14.999999999999932" fill="none" stroke="rgba(255,255,255,0.35)" stroke-width="0.9"/>
<text x="360.75" y="575.3" font-size="9.8" text-anchor="middle" font-weight="normal" fill="#111" stroke="#111" stroke-width="0.15" textLength="18.30" lengthAdjust="spacingAndGlyphs">59%</text>
<rect x="392.8" y="564.2" width="63.89999999999998" height="17.199999999999932" fill="#d2605f" stroke="#1a1a1a" stroke-width="1.1"/>
<rect x="393.90000000000003" y="565.3000000000001" width="61.699999999999974" height="14.999999999999932" fill="none" stroke="rgba(255,255,255,0.35)" stroke-width="0.9"/>
<text x="424.75" y="575.3" font-size="9.8" text-anchor="middle" font-weight="normal" fill="#111" stroke="#111" stroke-width="0.15" textLength="18.30" lengthAdjust="spacingAndGlyphs">72%</text>
<text x="18.10" y="593.2" font-size="9.3" text-anchor="start" font-weight="normal" fill="#111" stroke="#111" stroke-width="0.15" textLength="39.30" lengthAdjust="spacingAndGlyphs">CD16low</text>
<rect x="199.6" y="581.4" width="64.6" height="17.600000000000023" fill="#6a88c8" stroke="#1a1a1a" stroke-width="1.1"/>
<rect x="200.7" y="582.5" width="62.39999999999999" height="15.400000000000023" fill="none" stroke="rgba(255,255,255,0.35)" stroke-width="0.9"/>
<text x="231.90" y="593.2" font-size="9.8" text-anchor="middle" font-weight="normal" fill="#111" stroke="#111" stroke-width="0.15" textLength="13.60" lengthAdjust="spacingAndGlyphs">0%</text>
<rect x="264.2" y="581.4" width="64.5" height="17.600000000000023" fill="#e8b2b5" stroke="#1a1a1a" stroke-width="1.1"/>
<rect x="265.3" y="582.5" width="62.3" height="15.400000000000023" fill="none" stroke="rgba(255,255,255,0.35)" stroke-width="0.9"/>
<text x="296.45" y="593.2" font-size="9.8" text-anchor="middle" font-weight="normal" fill="#111" stroke="#111" stroke-width="0.15" textLength="18.30" lengthAdjust="spacingAndGlyphs">46%</text>
<rect x="328.7" y="581.4" width="64.10000000000002" height="17.600000000000023" fill="#f8eff0" stroke="#1a1a1a" stroke-width="1.1"/>
<rect x="329.8" y="582.5" width="61.90000000000002" height="15.400000000000023" fill="none" stroke="rgba(255,255,255,0.35)" stroke-width="0.9"/>
<text x="360.75" y="593.2" font-size="9.8" text-anchor="middle" font-weight="normal" fill="#111" stroke="#111" stroke-width="0.15" textLength="18.30" lengthAdjust="spacingAndGlyphs">29%</text>
<rect x="392.8" y="581.4" width="63.89999999999998" height="17.600000000000023" fill="#6a88c8" stroke="#1a1a1a" stroke-width="1.1"/>
<rect x="393.90000000000003" y="582.5" width="61.699999999999974" height="15.400000000000023" fill="none" stroke="rgba(255,255,255,0.35)" stroke-width="0.9"/>
<text x="424.75" y="593.2" font-size="9.8" text-anchor="middle" font-weight="normal" fill="#111" stroke="#111" stroke-width="0.15" textLength="13.60" lengthAdjust="spacingAndGlyphs">0%</text>
<text x="461" y="593.1" font-size="9.5" fill="#111"><tspan font-style="italic">P</tspan> = 0.041 **</text>
<text x="18.10" y="608.3" font-size="9.3" text-anchor="start" font-weight="bold" fill="#000" stroke="#000" stroke-width="0.25" textLength="90.50" lengthAdjust="spacing">Clinical presentation</text>
<text x="18.10" y="623.3" font-size="9.3" text-anchor="start" font-weight="normal" fill="#111" stroke="#111" stroke-width="0.15" textLength="96.50" lengthAdjust="spacing">Autoimmune disorders</text>
<rect x="199.6" y="611.6" width="64.6" height="17.600000000000023" fill="#9db0dd" stroke="#1a1a1a" stroke-width="1.1"/>
<rect x="200.7" y="612.7" width="62.39999999999999" height="15.400000000000023" fill="none" stroke="rgba(255,255,255,0.35)" stroke-width="0.9"/>
<text x="231.90" y="623.3" font-size="9.8" text-anchor="middle" font-weight="normal" fill="#111" stroke="#111" stroke-width="0.15" textLength="13.60" lengthAdjust="spacingAndGlyphs">9%</text>
<rect x="264.2" y="611.6" width="64.5" height="17.600000000000023" fill="#f4f5fb" stroke="#1a1a1a" stroke-width="1.1"/>
<rect x="265.3" y="612.7" width="62.3" height="15.400000000000023" fill="none" stroke="rgba(255,255,255,0.35)" stroke-width="0.9"/>
<text x="296.45" y="623.3" font-size="9.8" text-anchor="middle" font-weight="normal" fill="#111" stroke="#111" stroke-width="0.15" textLength="18.30" lengthAdjust="spacingAndGlyphs">23%</text>
<rect x="328.7" y="611.6" width="64.10000000000002" height="17.600000000000023" fill="#f8eff0" stroke="#1a1a1a" stroke-width="1.1"/>
<rect x="329.8" y="612.7" width="61.90000000000002" height="15.400000000000023" fill="none" stroke="rgba(255,255,255,0.35)" stroke-width="0.9"/>
<text x="360.75" y="623.3" font-size="9.8" text-anchor="middle" font-weight="normal" fill="#111" stroke="#111" stroke-width="0.15" textLength="18.30" lengthAdjust="spacingAndGlyphs">29%</text>
<rect x="392.8" y="611.6" width="63.89999999999998" height="17.600000000000023" fill="#e2e7f5" stroke="#1a1a1a" stroke-width="1.1"/>
<rect x="393.90000000000003" y="612.7" width="61.699999999999974" height="15.400000000000023" fill="none" stroke="rgba(255,255,255,0.35)" stroke-width="0.9"/>
<text x="424.75" y="623.3" font-size="9.8" text-anchor="middle" font-weight="normal" fill="#111" stroke="#111" stroke-width="0.15" textLength="18.30" lengthAdjust="spacingAndGlyphs">20%</text>
<text x="18.10" y="640.6" font-size="9.3" text-anchor="start" font-weight="normal" fill="#111" stroke="#111" stroke-width="0.15" textLength="137.00" lengthAdjust="spacing">Other hematologic malignancies</text>
<rect x="199.6" y="629.2" width="64.6" height="17.299999999999955" fill="#6a88c8" stroke="#1a1a1a" stroke-width="1.1"/>
<rect x="200.7" y="630.3000000000001" width="62.39999999999999" height="15.099999999999955" fill="none" stroke="rgba(255,255,255,0.35)" stroke-width="0.9"/>
<text x="231.90" y="640.6" font-size="9.8" text-anchor="middle" font-weight="normal" fill="#111" stroke="#111" stroke-width="0.15" textLength="13.60" lengthAdjust="spacingAndGlyphs">0%</text>
<rect x="264.2" y="629.2" width="64.5" height="17.299999999999955" fill="#efcdd0" stroke="#1a1a1a" stroke-width="1.1"/>
<rect x="265.3" y="630.3000000000001" width="62.3" height="15.099999999999955" fill="none" stroke="rgba(255,255,255,0.35)" stroke-width="0.9"/>
<text x="296.45" y="640.6" font-size="9.8" text-anchor="middle" font-weight="normal" fill="#111" stroke="#111" stroke-width="0.15" textLength="18.30" lengthAdjust="spacingAndGlyphs">38%</text>
<rect x="328.7" y="629.2" width="64.10000000000002" height="17.299999999999955" fill="#b6c4e6" stroke="#1a1a1a" stroke-width="1.1"/>
<rect x="329.8" y="630.3000000000001" width="61.90000000000002" height="15.099999999999955" fill="none" stroke="rgba(255,255,255,0.35)" stroke-width="0.9"/>
<text x="360.75" y="640.6" font-size="9.8" text-anchor="middle" font-weight="normal" fill="#111" stroke="#111" stroke-width="0.15" textLength="18.30" lengthAdjust="spacingAndGlyphs">12%</text>
<rect x="392.8" y="629.2" width="63.89999999999998" height="17.299999999999955" fill="#eef1fa" stroke="#1a1a1a" stroke-width="1.1"/>
<rect x="393.90000000000003" y="630.3000000000001" width="61.699999999999974" height="15.099999999999955" fill="none" stroke="rgba(255,255,255,0.35)" stroke-width="0.9"/>
<text x="424.75" y="640.6" font-size="9.8" text-anchor="middle" font-weight="normal" fill="#111" stroke="#111" stroke-width="0.15" textLength="18.30" lengthAdjust="spacingAndGlyphs">22%</text>
<text x="461" y="640.9" font-size="9.5" fill="#111"><tspan font-style="italic">P</tspan> = 0.024 **</text>
<rect x="200.0" y="546.4" width="63.8" height="17.400000000000045" fill="none" stroke="#b0143a" stroke-width="1.8"/>
<rect x="264.59999999999997" y="581.8" width="63.7" height="16.800000000000022" fill="none" stroke="#b0143a" stroke-width="1.8"/>
<rect x="264.59999999999997" y="629.6" width="63.7" height="16.499999999999954" fill="none" stroke="#b0143a" stroke-width="1.8"/>
<rect x="0" y="0" width="520" height="1" fill="#000"/>
<rect x="0" y="0" width="1.2" height="655" fill="#000"/>
<rect x="518.4" y="0" width="1.6" height="655" fill="#000"/>
<rect x="0" y="653" width="520" height="2" fill="#000"/>
</svg></div></body></html>
